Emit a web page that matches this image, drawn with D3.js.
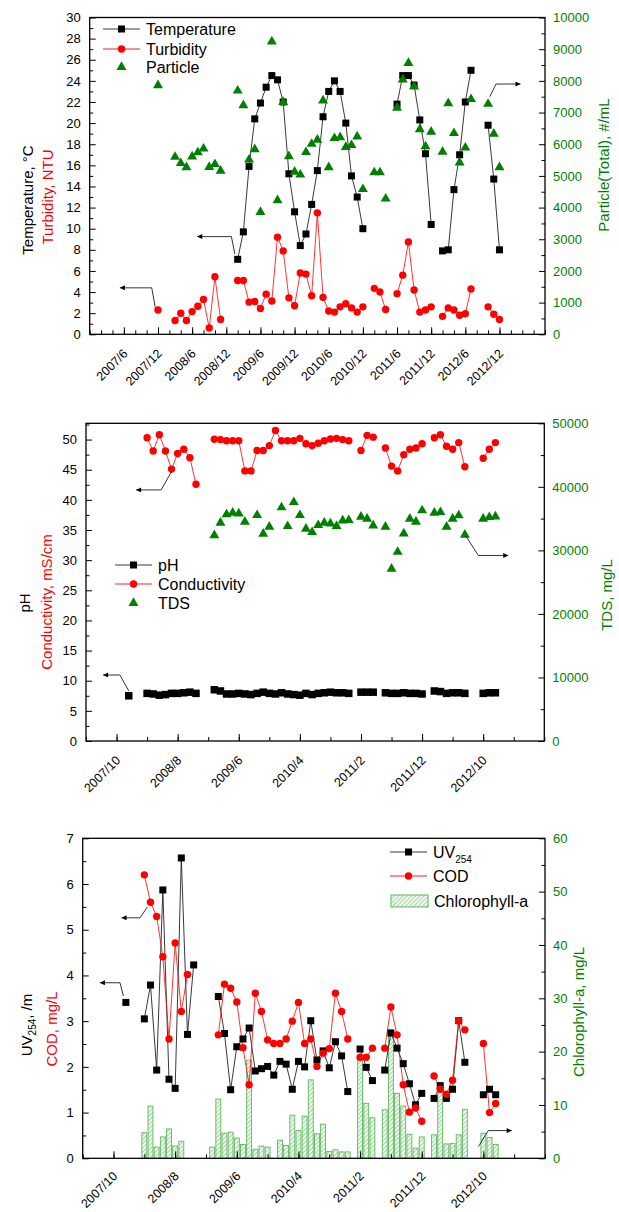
<!DOCTYPE html>
<html>
<head>
<meta charset="utf-8">
<script src="https://cdn.jsdelivr.net/npm/d3@7"></script>
<style>
  body { margin: 0; background: #fff; }
  text { font-family: "Liberation Sans", Arial, sans-serif; }
</style>
</head>
<body>
<div id="chart"></div>
<script>
// Month categories 2007/12 .. 2012/12
var months = [];
for (var yr = 2007; yr <= 2012; yr++) {
  for (var mo = 1; mo <= 12; mo++) {
    if (yr === 2007 && mo < 12) continue;
    months.push(yr + "/" + mo);
  }
}

// tick labels
var xLabels1 = ["2007/6", "2007/12", "2008/6", "2008/12", "2009/6", "2009/12",
  "2010/6", "2010/12", "2011/6", "2011/12", "2012/6", "2012/12"];
var xLabels2 = ["2007/10", "2008/8", "2009/6", "2010/4", "2011/2", "2011/12", "2012/10"];

// panel 1 values (one per month, null = no sample)
var temperature = [
  null, null, null, null, null, null, null, null, null, null,
  null, null, null, null, 7.1, 9.7, 15.9, 20.4, 21.9, 23.4,
  24.5, 24.1, 22.0, 15.2, 11.6, 8.4, 9.5, 12.3, 15.5, 20.6,
  23.0, 24.0, 23.0, 20.0, 15.0, 13.0, 10.0, null, null, null,
  null, null, 21.8, 24.5, 24.5, 23.6, 20.3, 17.1, 10.4, null,
  7.9, 8.0, 13.7, 17.0, 22.0, 25.0, null, null, 19.8, 14.7,
  8.0];
var turbidity = [
  2.3, null, null, 1.3, 2.0, 1.3, 2.15, 2.65, 3.3, 0.6,
  5.45, 1.4, null, null, 5.1, 5.1, 3.05, 3.1, 2.45, 3.8,
  3.15, 9.2, 7.9, 3.45, 2.7, 5.8, 5.7, 3.65, 11.5, 3.5,
  2.2, 2.1, 2.6, 2.9, 2.5, 2.1, 2.6, null, 4.35, 4.0,
  2.35, null, 3.85, 5.6, 8.75, 4.2, 2.1, 2.3, 2.6, null,
  1.7, 2.5, 2.3, 1.8, 1.95, 4.3, null, null, 2.6, 1.9,
  1.4];
var particle = [
  7860, null, null, 5600, 5400, 5270, 5610, 5740, 5860, 5280,
  5370, 5160, null, null, 7690, 7230, 5510, 5840, 3860, null,
  9240, 4230, 7330, 5620, 5130, 5040, 5750, 6010, 6140, 7380,
  5270, 6190, 6220, 5910, 5970, 6240, 4580, null, 5110, 5110,
  4280, null, 7150, 8040, 8560, 7820, 6470, 5930, 6390, null,
  5760, 7290, 6350, 5420, 5890, 7420, null, null, 7270, 6330,
  5270];

// panel 2 values
var pH = [
  7.5, null, null, 7.9, 7.8, 7.6, 7.7, 7.9, 7.9, 8.0,
  8.1, 7.9, null, null, 8.5, 8.3, 7.8, 7.8, 7.9, 7.8,
  7.7, 7.9, 8.1, 7.9, 7.8, 8.0, 7.8, 7.7, 7.6, 7.9,
  7.7, 7.9, 8.0, 8.1, 8.0, 8.0, 7.9, null, 8.1, 8.1,
  8.1, null, 8.0, 7.9, 7.9, 8.0, 7.9, 7.9, 7.8, null,
  8.3, 8.2, 7.9, 8.0, 8.0, 7.9, null, null, 7.9, 8.0,
  8.0];
var conductivity = [
  null, null, null, 50.3, 48.1, 50.8, 48.1, 45.1, 47.7, 48.4,
  47.0, 42.6, null, null, 50.05, 50.0, 49.8, 49.8, 49.8, 44.8,
  44.8, 48.2, 48.2, 49.0, 51.5, 49.8, 49.8, 49.8, 50.2, 49.3,
  49.0, 49.4, 49.8, 50.1, 50.2, 50.0, 49.8, null, 48.2, 50.7,
  50.4, null, 48.6, 45.6, 44.8, 47.5, 48.4, 48.6, 49.3, null,
  50.3, 50.8, 48.9, 48.4, 49.5, 45.5, null, null, 46.9, 48.4,
  49.5];
var tds = [
  null, null, null, null, null, null, null, null, null, null,
  null, null, null, null, 32380, 34330, 35650, 35910, 35800, 34490,
  null, 35540, 32600, 33700, null, 36750, 33800, 37590, 35540, 33390,
  32860, 33960, 34330, 34230, 33800, 34700, 34750, null, 35280, 34960,
  33910, null, 33700, 27100, 29760, 32650, 34960, 34490, 36280, null,
  35910, 36010, 33700, 34960, 35490, 32440, null, null, 34960, 35230,
  35330];

// panel 3 values
var uv254 = [
  3.41, null, null, 3.05, 3.79, 1.93, 5.87, 1.73, 1.53, 6.57,
  2.71, 4.23, null, null, null, 3.54, 2.73, 1.50, 2.44, 2.61,
  2.85, 1.91, 1.96, 2.01, 1.82, 2.12, 2.06, 1.51, 2.12, 2.00,
  3.01, 2.15, 2.35, 1.98, 2.55, 2.24, 1.46, null, 2.39, 1.99,
  1.70, null, 1.93, 2.74, 2.41, 2.07, 1.63, 1.17, 1.42, null,
  1.31, 1.59, 1.31, 1.51, 3.01, 2.10, null, null, 1.39, 1.51,
  1.39];
var cod = [
  null, null, null, 6.2, 5.6, 5.29, 4.41, 2.61, 4.71, 3.21,
  4.02, null, null, null, null, 2.70, 3.81, 3.72, 3.42, 2.42,
  1.61, 3.61, 3.21, 2.59, 2.51, 2.51, 2.61, 3.00, 3.41, 2.51,
  2.61, 2.01, 2.30, 2.40, 3.61, 3.21, 2.61, null, 2.21, 2.21,
  2.41, null, 2.41, 3.31, 2.70, 1.61, 1.01, 1.10, 0.81, null,
  1.80, 1.51, 1.40, 1.71, 3.01, 2.81, null, null, 2.51, 1.00,
  1.20];
var chlorophyll = [
  null, null, null, 4.8, 9.8, 2.1, 4.0, 5.5, 2.3, 3.2,
  null, null, null, null, 2.1, 11.1, 4.7, 4.9, 3.8, 2.6,
  18.4, 1.7, 2.3, 2.1, null, 3.4, 2.4, 8.1, 5.2, 7.9,
  14.7, 4.6, 6.4, 1.3, 1.6, 1.2, 1.2, null, 18.7, 10.3,
  7.6, null, 9.1, 24.1, 12.2, 9.8, 4.5, 1.9, 4.0, null,
  4.4, 13.6, 2.7, 2.8, 4.4, 9.2, null, null, 4.7, 3.9,
  2.6];

var green = "#008000";
var red = "#ff0000";

function monthIndex(s) {
  var p = s.split("/");
  return (+p[0] - 2007) * 12 + (+p[1] - 1);
}

function series(values) {
  return months.map(function(m, i) {
    return { m: monthIndex(m), v: values[i] };
  });
}

var svg = d3.select("#chart")
  .append("svg")
  .attr("width", 619)
  .attr("height", 1212);

var defs = svg.append("defs");

// hatch fill for the chlorophyll bars
var hatch = defs.append("pattern")
  .attr("id", "hatch")
  .attr("patternUnits", "userSpaceOnUse")
  .attr("width", 3)
  .attr("height", 3)
  .attr("patternTransform", "rotate(45)");
hatch.append("rect").attr("width", 3).attr("height", 3).attr("fill", "#f2faf2");
hatch.append("line").attr("x1", 0).attr("y1", 0).attr("x2", 0).attr("y2", 3)
  .attr("stroke", "#4aa84a").attr("stroke-width", 0.9);

defs.append("marker")
  .attr("id", "arrow")
  .attr("viewBox", "0 0 10 10")
  .attr("refX", 10)
  .attr("refY", 5)
  .attr("markerUnits", "userSpaceOnUse")
  .attr("markerWidth", 8)
  .attr("markerHeight", 5)
  .attr("orient", "auto")
  .append("path")
  .attr("d", "M0,0L10,5L0,10Z")
  .attr("fill", "#000");

// axes + frame for one panel
function drawFrame(p, x, yL, yR) {
  var g = svg.append("g");

  // bottom axis, minor then major
  g.append("g")
    .attr("transform", `translate(0, ${p.bottom})`)
    .call(d3.axisBottom(x).tickValues(p.xMinor).tickSize(-4).tickSizeOuter(0).tickFormat(""));
  var xAxis = g.append("g")
    .attr("transform", `translate(0, ${p.bottom})`)
    .call(d3.axisBottom(x).tickValues(p.xLabels.map(monthIndex)).tickSize(-7).tickSizeOuter(0)
      .tickFormat(function(d, i) { return p.xLabels[i]; }));
  xAxis.selectAll("text")
    .attr("x", 0)
    .attr("y", 0)
    .attr("dy", "0.35em")
    .attr("text-anchor", "end")
    .attr("transform", `translate(1, ${p.labelDrop}) rotate(-45)`)
    .attr("font-size", "12.5px")
    .attr("fill", "#000");

  // left axis
  g.append("g")
    .attr("transform", `translate(${p.left}, 0)`)
    .call(d3.axisLeft(yL).tickValues(p.yLMinor).tickSize(-3.5).tickSizeOuter(0).tickFormat(""));
  g.append("g")
    .attr("transform", `translate(${p.left}, 0)`)
    .call(d3.axisLeft(yL).tickValues(p.yLMajor).tickSize(-6).tickSizeOuter(0).tickPadding(9)
      .tickFormat(d3.format("d")))
    .selectAll("text")
    .attr("font-size", "13px")
    .attr("fill", "#000");

  // right axis
  g.append("g")
    .attr("transform", `translate(${p.right}, 0)`)
    .call(d3.axisRight(yR).tickValues(p.yRMinor).tickSize(-3.5).tickSizeOuter(0).tickFormat(""));
  g.append("g")
    .attr("transform", `translate(${p.right}, 0)`)
    .call(d3.axisRight(yR).tickValues(p.yRMajor).tickSize(-6).tickSizeOuter(0).tickPadding(8)
      .tickFormat(d3.format("d")))
    .selectAll("text")
    .attr("font-size", "13px")
    .attr("fill", green);

  g.selectAll(".domain").remove();
  g.selectAll(".tick line").attr("stroke", "#000").attr("stroke-width", 1);

  // frame
  g.append("rect")
    .attr("x", p.left)
    .attr("y", p.top)
    .attr("width", p.right - p.left)
    .attr("height", p.bottom - p.top)
    .attr("fill", "none")
    .attr("stroke", "#000")
    .attr("stroke-width", 1.3);
}

function drawLine(values, x, y, color, width) {
  var line = d3.line()
    .defined(function(d) { return d.v !== null; })
    .x(function(d) { return x(d.m); })
    .y(function(d) { return y(d.v); });
  svg.append("path")
    .datum(series(values))
    .attr("d", line)
    .attr("fill", "none")
    .attr("stroke", color)
    .attr("stroke-width", width);
}

function drawMarkers(values, x, y, kind, size) {
  var pts = series(values).filter(function(d) { return d.v !== null; });
  var g = svg.append("g");
  if (kind === "square") {
    g.selectAll("rect").data(pts).enter().append("rect")
      .attr("x", function(d) { return x(d.m) - size / 2; })
      .attr("y", function(d) { return y(d.v) - size / 2; })
      .attr("width", size)
      .attr("height", size)
      .attr("fill", "#000");
  } else if (kind === "circle") {
    g.selectAll("circle").data(pts).enter().append("circle")
      .attr("cx", function(d) { return x(d.m); })
      .attr("cy", function(d) { return y(d.v); })
      .attr("r", size / 2)
      .attr("fill", red);
  } else {
    g.selectAll("path").data(pts).enter().append("path")
      .attr("d", d3.symbol(d3.symbolTriangle, size * size * 0.43))
      .attr("transform", function(d) { return `translate(${x(d.m)}, ${y(d.v)})`; })
      .attr("fill", green);
  }
}

function drawArrow(pts, x, y) {
  svg.append("path")
    .datum(pts)
    .attr("d", d3.line().x(function(d) { return x(monthIndex(d[0]) + d[1]); }).y(function(d) { return y(d[2]); }))
    .attr("fill", "none")
    .attr("stroke", "#000")
    .attr("stroke-width", 0.8)
    .attr("marker-end", "url(#arrow)");
}

function legendItem(x0, y0, label, kind, size) {
  var g = svg.append("g");
  if (kind !== "triangle" && kind !== "bar") {
    g.append("line")
      .attr("x1", x0).attr("x2", x0 + 37)
      .attr("y1", y0).attr("y2", y0)
      .attr("stroke", kind === "square" ? "#222" : red)
      .attr("stroke-width", 0.9);
  }
  if (kind === "square") {
    g.append("rect").attr("x", x0 + 18.5 - size / 2).attr("y", y0 - size / 2)
      .attr("width", size).attr("height", size).attr("fill", "#000");
  } else if (kind === "circle") {
    g.append("circle").attr("cx", x0 + 18.5).attr("cy", y0).attr("r", size / 2).attr("fill", red);
  } else if (kind === "triangle") {
    g.append("path").attr("d", d3.symbol(d3.symbolTriangle, size * size * 0.43))
      .attr("transform", `translate(${x0 + 18.5}, ${y0})`).attr("fill", green);
  } else {
    g.append("rect").attr("x", x0).attr("y", y0 - 6).attr("width", 37).attr("height", 12)
      .attr("fill", "url(#hatch)").attr("stroke", "#5cb85c").attr("stroke-width", 1);
  }
  var t = g.append("text")
    .attr("x", x0 + 43)
    .attr("y", y0)
    .attr("dy", "0.35em")
    .attr("font-size", "16px");
  if (label === "UV254") {
    t.append("tspan").text("UV");
    t.append("tspan").attr("font-size", "10px").attr("dy", "5").text("254");
  } else {
    t.text(label);
  }
}

function axisTitle(x0, y0, color, parts) {
  var t = svg.append("text")
    .attr("transform", `translate(${x0}, ${y0}) rotate(-90)`)
    .attr("text-anchor", "middle")
    .attr("font-size", "15px")
    .attr("fill", color);
  parts.forEach(function(s) {
    var sp = t.append("tspan").text(s.text);
    if (s.sub) sp.attr("font-size", "10px").attr("dy", "4");
    if (s.back) sp.attr("dy", "-4");
  });
}

// ---------- Panel 1: temperature / turbidity / particle ----------
var p1 = {
  left: 89.7, right: 545, top: 17.5, bottom: 334.3, labelDrop: 17,
  xLabels: xLabels1,
  xMinor: d3.range(-1, 80, 2),
  yLMajor: d3.range(0, 31, 2), yLMinor: d3.range(1, 30, 2),
  yRMajor: d3.range(0, 10001, 1000), yRMinor: d3.range(500, 10000, 1000)
};
var x1 = d3.scaleLinear().domain([monthIndex("2006/12"), monthIndex("2013/8")]).range([p1.left, p1.right]);
var y1 = d3.scaleLinear().domain([0, 30]).range([p1.bottom, p1.top]);
var y1R = d3.scaleLinear().domain([0, 10000]).range([p1.bottom, p1.top]);
drawFrame(p1, x1, y1, y1R);

drawLine(temperature, x1, y1, "#222", 0.9);
drawLine(turbidity, x1, y1, red, 0.8);
drawMarkers(temperature, x1, y1, "square", 7);
drawMarkers(turbidity, x1, y1, "circle", 7.4);
drawMarkers(particle, x1, y1R, "triangle", 10);

drawArrow([["2007/12", -0.5, 2.6], ["2007/12", -1.1, 4.4], ["2007/12", -6.7, 4.4]], x1, y1);
drawArrow([["2009/2", -0.5, 7.6], ["2009/2", -1.1, 9.25], ["2009/2", -7.1, 9.25]], x1, y1);
drawArrow([["2012/10", 0.3, 7500], ["2012/10", 1.4, 7900], ["2012/10", 5.7, 7900]], x1, y1R);

legendItem(103, 29, "Temperature", "square", 7);
legendItem(103, 49, "Turbidity", "circle", 7.4);
legendItem(103, 67, "Particle", "triangle", 10);

axisTitle(33, 200, "#000", [{ text: "Temperature, \u00b0C" }]);
axisTitle(53, 197, red, [{ text: "Turbidity, NTU" }]);
axisTitle(609, 165, green, [{ text: "Particle(Total), #/mL" }]);

// ---------- Panel 2: pH / conductivity / TDS ----------
var p2 = {
  left: 86, right: 544.3, top: 423.3, bottom: 741, labelDrop: 17,
  xLabels: xLabels2,
  xMinor: d3.range(4, 80, 5),
  yLMajor: d3.range(0, 51, 5), yLMinor: d3.range(2.5, 53, 5),
  yRMajor: d3.range(0, 50001, 10000), yRMinor: d3.range(5000, 50000, 10000)
};
var x2 = d3.scaleLinear().domain([monthIndex("2007/5"), monthIndex("2013/8")]).range([p2.left, p2.right]);
var y2 = d3.scaleLinear().domain([0, 52.7]).range([p2.bottom, p2.top]);
var y2R = d3.scaleLinear().domain([0, 50000]).range([p2.bottom, p2.top]);
drawFrame(p2, x2, y2, y2R);

drawLine(pH, x2, y2, "#222", 0.9);
drawLine(conductivity, x2, y2, red, 0.8);
drawMarkers(pH, x2, y2, "square", 7.5);
drawMarkers(conductivity, x2, y2, "circle", 7.4);
drawMarkers(tds, x2, y2R, "triangle", 10);

drawArrow([["2008/7", 0, 44.7], ["2008/7", -1.7, 41.65], ["2008/7", -5.8, 41.65]], x2, y2);
drawArrow([["2007/12", 0, 8.3], ["2007/12", -1.45, 10.95], ["2007/12", -4.2, 10.95]], x2, y2);
drawArrow([["2012/7", 0.2, 32200], ["2012/7", 2.2, 29200], ["2012/7", 7.1, 29200]], x2, y2R);

legendItem(115, 565, "pH", "square", 7);
legendItem(115, 584, "Conductivity", "circle", 7.4);
legendItem(115, 603, "TDS", "triangle", 10);

axisTitle(30, 603, "#000", [{ text: "pH" }]);
axisTitle(52, 602, red, [{ text: "Conductivity, mS/cm" }]);
axisTitle(612, 595, green, [{ text: "TDS, mg/L" }]);

// ---------- Panel 3: UV254 / COD / chlorophyll-a ----------
var p3 = {
  left: 82.7, right: 545, top: 838.3, bottom: 1158.3, labelDrop: 15.5,
  xLabels: xLabels2,
  xMinor: d3.range(4, 80, 5),
  yLMajor: d3.range(0, 8, 1), yLMinor: d3.range(0.5, 7, 1),
  yRMajor: d3.range(0, 61, 10), yRMinor: d3.range(5, 60, 10)
};
var x3 = d3.scaleLinear().domain([monthIndex("2007/5"), monthIndex("2013/8")]).range([p3.left, p3.right]);
var y3 = d3.scaleLinear().domain([0, 7]).range([p3.bottom, p3.top]);
var y3R = d3.scaleLinear().domain([0, 60]).range([p3.bottom, p3.top]);

// bars first so the lines sit on top
var barW = (x3(1) - x3(0)) * 0.8;
svg.append("g")
  .selectAll("rect")
  .data(series(chlorophyll).filter(function(d) { return d.v !== null; }))
  .enter()
  .append("rect")
  .attr("x", function(d) { return x3(d.m) - barW / 2; })
  .attr("y", function(d) { return y3R(d.v); })
  .attr("width", barW)
  .attr("height", function(d) { return y3R(0) - y3R(d.v); })
  .attr("fill", "url(#hatch)")
  .attr("stroke", "#5cb85c")
  .attr("stroke-width", 0.9);

drawFrame(p3, x3, y3, y3R);

drawLine(uv254, x3, y3, "#222", 0.9);
drawLine(cod, x3, y3, red, 0.8);
drawMarkers(uv254, x3, y3, "square", 7);
drawMarkers(cod, x3, y3, "circle", 7.4);

drawArrow([["2008/4", -0.5, 5.5], ["2008/4", -1.7, 5.26], ["2008/4", -4.7, 5.26]], x3, y3);
drawArrow([["2007/12", -0.4, 3.55], ["2007/12", -0.95, 3.84], ["2007/12", -4.2, 3.84]], x3, y3);
drawArrow([["2012/12", -2.8, 2.2], ["2012/12", -1.2, 5.2], ["2012/12", 2.6, 5.2]], x3, y3R);

legendItem(390, 852, "UV254", "square", 7);
legendItem(390, 876, "COD", "circle", 7.4);
legendItem(391, 901, "Chlorophyll-a", "bar", 0);

axisTitle(32, 1025, "#000", [{ text: "UV" }, { text: "254", sub: true }, { text: ", /m", back: true }]);
axisTitle(57, 1029, red, [{ text: "COD, mg/L" }]);
axisTitle(584, 1012, green, [{ text: "Chlorophyll-a, mg/L" }]);
</script>
</body>
</html>
